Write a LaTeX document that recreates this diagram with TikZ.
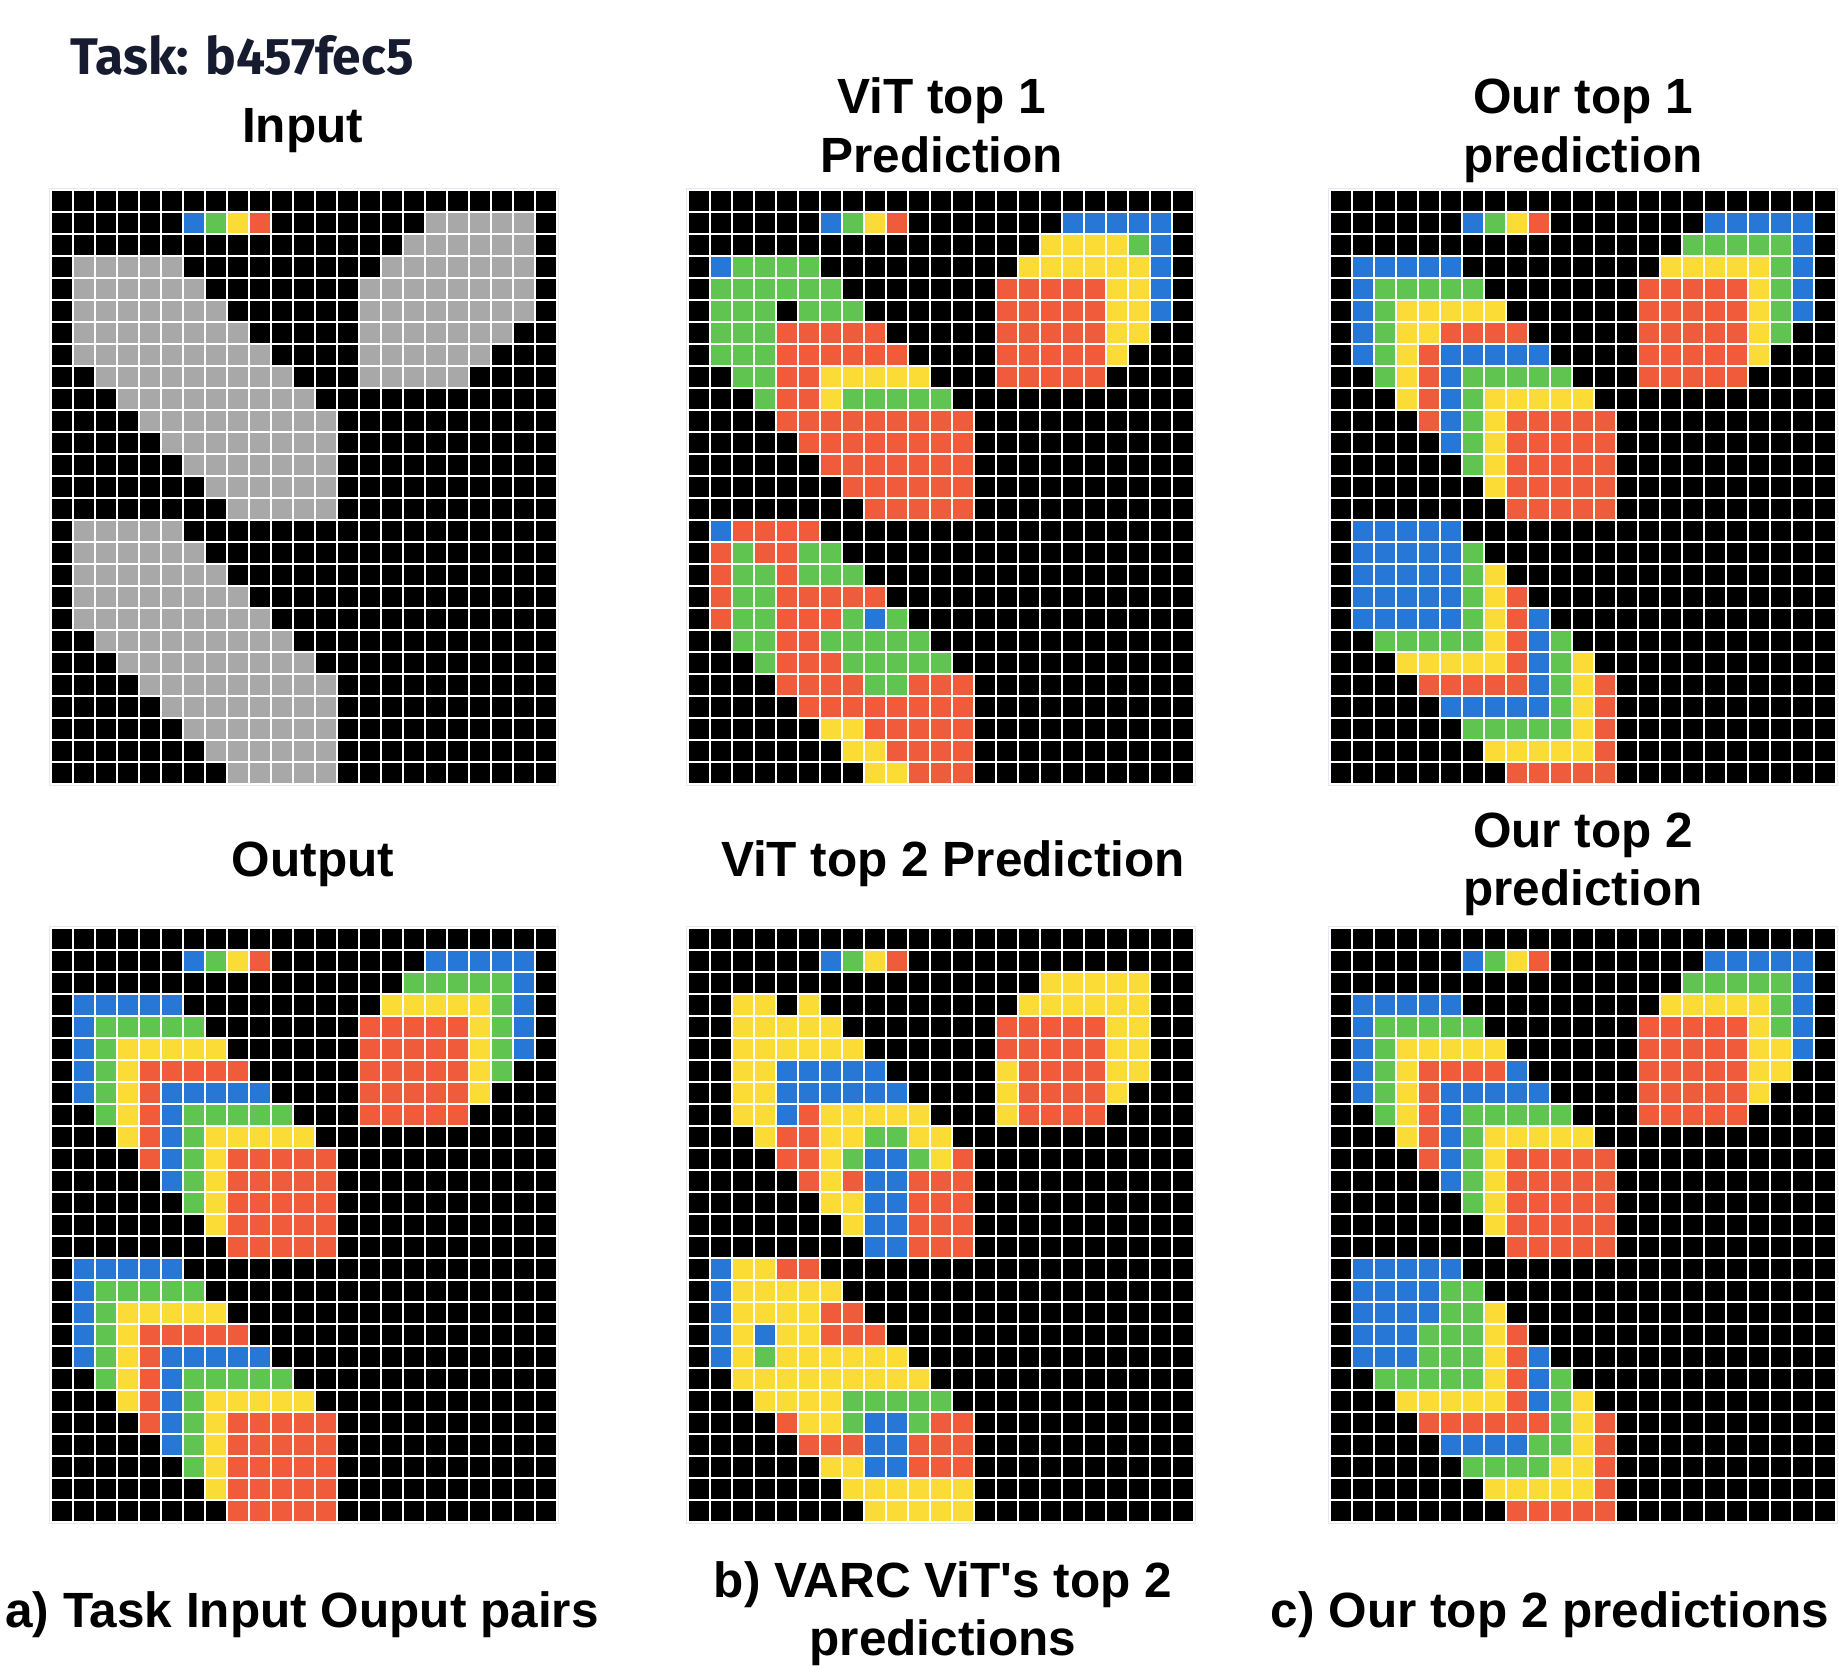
\documentclass[tikz,border=0pt]{standalone}
\usepackage{fontspec}
\setmainfont{Liberation Sans}
\newfontfamily\plainfont{Liberation Sans}
\newfontfamily\taskfont{Fira Sans}
\definecolor{arcB}{RGB}{39,120,214}
\definecolor{arcG}{RGB}{96,196,80}
\definecolor{arcY}{RGB}{251,220,55}
\definecolor{arcR}{RGB}{240,91,60}
\definecolor{arcS}{RGB}{168,168,168}
\definecolor{taskcol}{RGB}{22,27,48}
\definecolor{framecol}{RGB}{228,232,240}
\makeatletter
\newcount\arccolcnt
\newcount\arcrowcnt
\newcommand\gridstart[2]{\def\gx{#1}\def\gy{#2}\global\arcrowcnt=0
  \fill[black] (#1,#2) rectangle ++(506,594);}
\newcommand\arow[1]{\global\arccolcnt=0 \arc@parse#1\@nil\global\advance\arcrowcnt by 1 }
\def\arc@parse#1{\ifx#1\@nil\expandafter\@gobble\else\expandafter\@firstofone\fi
  {\arc@cell#1\global\advance\arccolcnt by 1 \arc@parse}}
\def\arc@cell#1{\ifx#1.\expandafter\@gobble\else\expandafter\@firstofone\fi
  {\fill[arc#1] ({\gx+22*\the\arccolcnt},{\gy+22*\the\arcrowcnt}) rectangle ++(22,22);}}
\newcommand\gridend{%
  \foreach \i in {0,...,23} {\draw[white, line width=2.4pt] ({\gx+22*\i},\gy) -- ++(0,594);}
  \foreach \j in {0,...,27} {\draw[white, line width=2.4pt] (\gx,{\gy+22*\j}) -- ++(506,0);}
  \draw[framecol, line width=1pt] ({\gx-1.7},{\gy-1.7}) rectangle ++(509.4,597.4);}
\makeatother
\tikzset{lbl/.style={font=\fontsize{49.5}{58}\selectfont\bfseries, inner sep=0pt, anchor=base, text=black}}
\begin{document}
\begin{tikzpicture}[x=1pt,y=-1pt]
\useasboundingbox[fill=white] (0,0) rectangle (1839,1669);

% ---------- Input ----------
\gridstart{51}{190}
\arow{.......................}
\arow{......BGYR.......SSSSS.}
\arow{................SSSSSS.}
\arow{.SSSSS.........SSSSSSS.}
\arow{.SSSSSS.......SSSSSSSS.}
\arow{.SSSSSSS......SSSSSSSS.}
\arow{.SSSSSSSS.....SSSSSSS..}
\arow{.SSSSSSSSS....SSSSSS...}
\arow{..SSSSSSSSS...SSSSS....}
\arow{...SSSSSSSSS...........}
\arow{....SSSSSSSSS..........}
\arow{.....SSSSSSSS..........}
\arow{......SSSSSSS..........}
\arow{.......SSSSSS..........}
\arow{........SSSSS..........}
\arow{.SSSSS.................}
\arow{.SSSSSS................}
\arow{.SSSSSSS...............}
\arow{.SSSSSSSS..............}
\arow{.SSSSSSSSS.............}
\arow{..SSSSSSSSS............}
\arow{...SSSSSSSSS...........}
\arow{....SSSSSSSSS..........}
\arow{.....SSSSSSSS..........}
\arow{......SSSSSSS..........}
\arow{.......SSSSSS..........}
\arow{........SSSSS..........}
\gridend

% ---------- Output ----------
\gridstart{51}{928}
\arow{.......................}
\arow{......BGYR.......BBBBB.}
\arow{................GGGGGB.}
\arow{.BBBBB.........YYYYYGB.}
\arow{.BGGGGG.......RRRRRYGB.}
\arow{.BGYYYYY......RRRRRYGB.}
\arow{.BGYRRRRR.....RRRRRYG..}
\arow{.BGYRBBBBB....RRRRRY...}
\arow{..GYRBGGGGG...RRRRR....}
\arow{...YRBGYYYYY...........}
\arow{....RBGYRRRRR..........}
\arow{.....BGYRRRRR..........}
\arow{......GYRRRRR..........}
\arow{.......YRRRRR..........}
\arow{........RRRRR..........}
\arow{.BBBBB.................}
\arow{.BGGGGG................}
\arow{.BGYYYYY...............}
\arow{.BGYRRRRR..............}
\arow{.BGYRBBBBB.............}
\arow{..GYRBGGGGG............}
\arow{...YRBGYYYYY...........}
\arow{....RBGYRRRRR..........}
\arow{.....BGYRRRRR..........}
\arow{......GYRRRRR..........}
\arow{.......YRRRRR..........}
\arow{........RRRRR..........}
\gridend

% ---------- ViT top 1 ----------
\gridstart{688}{190}
\arow{.......................}
\arow{......BGYR.......BBBBB.}
\arow{................YYYYGB.}
\arow{.BGGGG.........YYYYYYB.}
\arow{.GGGGGG.......RRRRRYYB.}
\arow{.GGG.GGG......RRRRRYYB.}
\arow{.GGGRRRRR.....RRRRRYY..}
\arow{.GGGRRRRRR....RRRRRY...}
\arow{..GGRRYYYYY...RRRRR....}
\arow{...GRRYGGGGG...........}
\arow{....RRRRRRRRR..........}
\arow{.....RRRRRRRR..........}
\arow{......RRRRRRR..........}
\arow{.......RRRRRR..........}
\arow{........RRRRR..........}
\arow{.BRRRR.................}
\arow{.RGRRGG................}
\arow{.RGGRGGG...............}
\arow{.RGGRRRRR..............}
\arow{.RGGRRRGBG.............}
\arow{..GGRRGGGGG............}
\arow{...GRRRGGGGG...........}
\arow{....RRRRGGRRR..........}
\arow{.....RRRRRRRR..........}
\arow{......YYRRRRR..........}
\arow{.......YYRRRR..........}
\arow{........YYRRR..........}
\gridend

% ---------- ViT top 2 ----------
\gridstart{688}{928}
\arow{.......................}
\arow{......BGYR.............}
\arow{................YYYYY..}
\arow{..YY.Y.........YYYYYY..}
\arow{..YYYYY.......RRRRRYY..}
\arow{..YYYYYY......RRRRRYY..}
\arow{..YYBBBBB.....YRRRRYY..}
\arow{..YYBBBBBB....YRRRRY...}
\arow{..YYBRYYYYY...YRRRR....}
\arow{...YRRYYGGYY...........}
\arow{....RRYGBBGYR..........}
\arow{.....RYRBBRRR..........}
\arow{......YYBBRRR..........}
\arow{.......YBBRRR..........}
\arow{........BBRRR..........}
\arow{.BYYRR.................}
\arow{.BYYYYY................}
\arow{.BYYYYRR...............}
\arow{.BYBYYRRR..............}
\arow{.BYGYYYYYY.............}
\arow{..YYYYYYYYY............}
\arow{...YYYYGGGGG...........}
\arow{....RYYGBBGRR..........}
\arow{.....RRRBBRRR..........}
\arow{......YYBBRRR..........}
\arow{.......YYYYYY..........}
\arow{........YYYYY..........}
\gridend

% ---------- Our top 1 ----------
\gridstart{1330}{190}
\arow{.......................}
\arow{......BGYR.......BBBBB.}
\arow{................GGGGGB.}
\arow{.BBBBB.........YYYYYGB.}
\arow{.BGGGGG.......RRRRRYGB.}
\arow{.BGYYYYY......RRRRRYGB.}
\arow{.BGYYRRRR.....RRRRRYG..}
\arow{.BGYRBBBBB....RRRRRY...}
\arow{..GYRBGGGGG...RRRRR....}
\arow{...YRBGYYYYY...........}
\arow{....RBGYRRRRR..........}
\arow{.....BGYRRRRR..........}
\arow{......GYRRRRR..........}
\arow{.......YRRRRR..........}
\arow{........RRRRR..........}
\arow{.BBBBB.................}
\arow{.BBBBBG................}
\arow{.BBBBBGY...............}
\arow{.BBBBBGYR..............}
\arow{.BBBBBGYRB.............}
\arow{..GGGGGYRBG............}
\arow{...YYYYYRBGY...........}
\arow{....RRRRRBGYR..........}
\arow{.....BBBBBGYR..........}
\arow{......GGGGGYR..........}
\arow{.......YYYYYR..........}
\arow{........RRRRR..........}
\gridend

% ---------- Our top 2 ----------
\gridstart{1330}{928}
\arow{.......................}
\arow{......BGYR.......BBBBB.}
\arow{................GGGGGB.}
\arow{.BBBBB.........YYYYYGB.}
\arow{.BGGGGG.......RRRRRYGB.}
\arow{.BGYYYYY......RRRRRYYB.}
\arow{.BGYRRRRB.....RRRRRYY..}
\arow{.BGYRBBBBB....RRRRRY...}
\arow{..GYRBGGGGG...RRRRR....}
\arow{...YRBGYYYYY...........}
\arow{....RBGYRRRRR..........}
\arow{.....BGYRRRRR..........}
\arow{......GYRRRRR..........}
\arow{.......YRRRRR..........}
\arow{........RRRRR..........}
\arow{.BBBBB.................}
\arow{.BBBBGG................}
\arow{.BBBBGGY...............}
\arow{.BBBGGGYR..............}
\arow{.BBBGGGYRB.............}
\arow{..GGGGGYRBG............}
\arow{...YYYYYRBGY...........}
\arow{....RRRRRRGYR..........}
\arow{.....BBBBGGYR..........}
\arow{......GGGGYYR..........}
\arow{.......YYYYYR..........}
\arow{........RRRRR..........}
\gridend

% ---------- Labels ----------
\node[anchor=base west, inner sep=0pt, text=taskcol, font=\taskfont\bfseries\fontsize{51.5}{58}\selectfont] (task) at (70,75) {Task: b457fec5};
\node[lbl] (tin) at (302.6,143) {Input};
\node[lbl] (tvit1a) at (941.7,113.8) {ViT top 1};
\node[lbl] (tvit1b) at (941.7,172.4) {Prediction};
\node[lbl] (tour1a) at (1583,113.8) {Our top 1};
\node[lbl] (tour1b) at (1583,172.4) {prediction};
\node[lbl] (tout) at (313,876) {Output};
\node[lbl] (tvit2) at (953,876) {ViT top 2 Prediction};
\node[lbl] (tour2a) at (1583,847) {Our top 2};
\node[lbl] (tour2b) at (1583,905.4) {prediction};
\node[lbl] (capa) at (302,1627) {a) Task Input Ouput pairs};
\node[lbl] (capb1) at (943,1597) {b) VARC ViT{\plainfont '}s top 2};
\node[lbl] (capb2) at (943,1655) {predictions};
\node[lbl] (capc) at (1550,1627) {c) Our top 2 predictions};
\end{tikzpicture}
\end{document}
